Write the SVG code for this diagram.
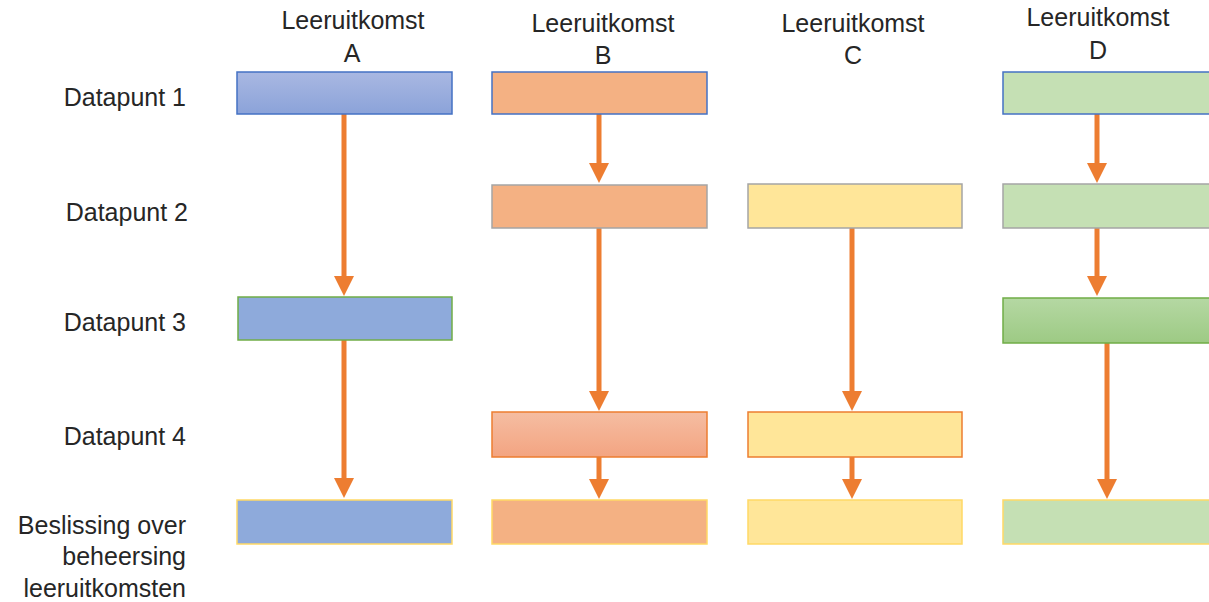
<svg xmlns="http://www.w3.org/2000/svg" width="1209" height="602" viewBox="0 0 1209 602">
<style>
text{font-family:"Liberation Sans",Arial,sans-serif;font-size:25px;fill:#262626}
.h{text-anchor:middle}
.r{text-anchor:end}
.c{stroke:#ED7D31;stroke-width:5;fill:none}
rect{stroke-width:1.5}
</style>
<defs>
<marker id="ah" markerUnits="userSpaceOnUse" viewBox="0 0 20 20" refX="0" refY="10" markerWidth="20" markerHeight="20" orient="auto"><path d="M0,0 L20,10 L0,20 Z" fill="#ED7D31"/></marker>
<linearGradient id="gA" x1="0" y1="0" x2="0" y2="1"><stop offset="0" stop-color="#A9B8E2"/><stop offset="1" stop-color="#8BA3D9"/></linearGradient>
<linearGradient id="gB" x1="0" y1="0" x2="0" y2="1"><stop offset="0" stop-color="#F5BDA2"/><stop offset="1" stop-color="#F3A481"/></linearGradient>
<linearGradient id="gD" x1="0" y1="0" x2="0" y2="1"><stop offset="0" stop-color="#B5D8A3"/><stop offset="1" stop-color="#9DCA84"/></linearGradient>
</defs>
<g id="headers">
<text class="h" x="353" y="29">Leeruitkomst</text><text class="h" x="352" y="62">A</text>
<text class="h" x="603" y="32">Leeruitkomst</text><text class="h" x="603" y="64">B</text>
<text class="h" x="853" y="32">Leeruitkomst</text><text class="h" x="853" y="64">C</text>
<text class="h" x="1098" y="26">Leeruitkomst</text><text class="h" x="1098" y="59">D</text>
</g>
<g id="rowlabels">
<text class="r" x="186" y="106">Datapunt 1</text>
<text class="r" x="188" y="221">Datapunt 2</text>
<text class="r" x="186" y="331">Datapunt 3</text>
<text class="r" x="186" y="445">Datapunt 4</text>
<text class="r" x="186" y="534">Beslissing over</text>
<text class="r" x="186" y="565">beheersing</text>
<text class="r" x="186" y="597">leeruitkomsten</text>
</g>
<g id="connectors">
<line class="c" x1="344" y1="114" x2="344" y2="276" marker-end="url(#ah)"/>
<line class="c" x1="344" y1="340" x2="344" y2="478" marker-end="url(#ah)"/>
<line class="c" x1="599" y1="114" x2="599" y2="163" marker-end="url(#ah)"/>
<line class="c" x1="599" y1="228" x2="599" y2="391" marker-end="url(#ah)"/>
<line class="c" x1="599" y1="457" x2="599" y2="479" marker-end="url(#ah)"/>
<line class="c" x1="852" y1="228" x2="852" y2="391" marker-end="url(#ah)"/>
<line class="c" x1="852" y1="457" x2="852" y2="479" marker-end="url(#ah)"/>
<line class="c" x1="1097" y1="114" x2="1097" y2="163" marker-end="url(#ah)"/>
<line class="c" x1="1097" y1="228" x2="1097" y2="276" marker-end="url(#ah)"/>
<line class="c" x1="1107" y1="343" x2="1107" y2="479" marker-end="url(#ah)"/>
</g>
<g id="A1"><rect x="237" y="72" width="215" height="42" fill="url(#gA)" stroke="#4472C4"/></g>
<g id="A3"><rect x="238" y="297" width="214" height="43" fill="#8EAADB" stroke="#70AD47"/></g>
<g id="A5"><rect x="237" y="500" width="215" height="44" fill="#8EAADB" stroke="#FFD966"/></g>
<g id="B1"><rect x="492" y="72" width="215" height="42" fill="#F4B183" stroke="#4472C4"/></g>
<g id="B2"><rect x="492" y="185" width="215" height="43" fill="#F4B183" stroke="#A5A5A5"/></g>
<g id="B4"><rect x="492" y="412" width="215" height="45" fill="url(#gB)" stroke="#ED7D31"/></g>
<g id="B5"><rect x="492" y="500" width="215" height="44" fill="#F4B183" stroke="#FFD966"/></g>
<g id="C2"><rect x="748" y="184" width="214" height="44" fill="#FFE699" stroke="#A5A5A5"/></g>
<g id="C4"><rect x="748" y="412" width="214" height="45" fill="#FFE699" stroke="#ED7D31"/></g>
<g id="C5"><rect x="748" y="500" width="214" height="44" fill="#FFE699" stroke="#FFD966"/></g>
<g id="D1"><rect x="1003" y="72" width="215" height="42" fill="#C5E0B4" stroke="#4472C4"/></g>
<g id="D2"><rect x="1003" y="184" width="215" height="44" fill="#C5E0B4" stroke="#A5A5A5"/></g>
<g id="D3"><rect x="1003" y="298" width="215" height="45" fill="url(#gD)" stroke="#70AD47"/></g>
<g id="D5"><rect x="1003" y="500" width="215" height="44" fill="#C5E0B4" stroke="#FFD966"/></g>
</svg>
